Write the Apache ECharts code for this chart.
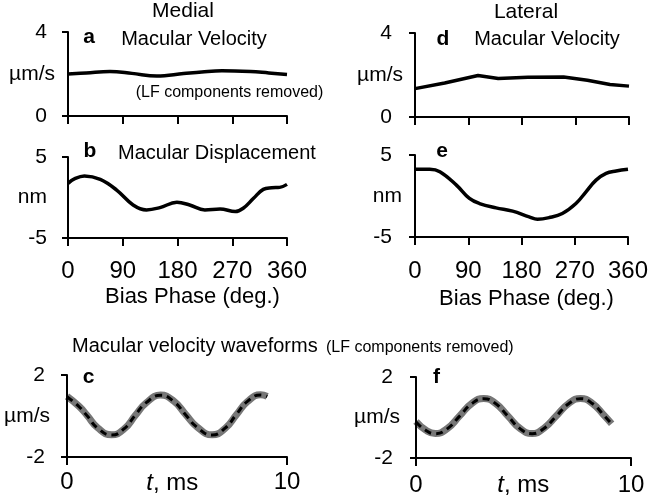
<!DOCTYPE html>
<html><head><meta charset="utf-8">
<script src="https://cdn.jsdelivr.net/npm/echarts@6/dist/echarts.min.js"></script>
<style>html,body{margin:0;padding:0;background:#fff}#c{width:649px;height:499px}</style>
</head><body><div id="c"></div>
<script>
// ---- axis ranges ----
const phaseRange = [0, 360];
const velRange = [0, 4];
const dispRange = [-5, 5];
const timeRange = [0, 10];
const waveRange = [-2, 2];
// ---- data ----
// a: medial macular velocity (µm/s) vs bias phase (deg)
const medVelPhase = [0, 30, 69, 105, 146, 190, 220, 253, 300, 330, 360];
const medVelValue = [2.00, 2.05, 2.12, 2.03, 1.90, 2.02, 2.10, 2.16, 2.12, 2.05, 1.98];
// b: medial macular displacement (nm)
const medDispPhase = [0, 12, 27, 53, 80, 107, 129, 151, 179, 200, 225, 250, 275, 288, 305, 321, 335, 348, 360];
const medDispValue = [1.75, 2.35, 2.65, 2.23, 0.92, -0.92, -1.53, -1.25, -0.59, -0.92, -1.53, -1.41, -1.74, -1.33, -0.10, 1.00, 1.20, 1.25, 1.62];
// d: lateral macular velocity (µm/s)
const latVelPhase = [0, 50, 106, 140, 190, 250, 290, 328, 360];
const latVelValue = [1.35, 1.62, 1.98, 1.83, 1.89, 1.90, 1.75, 1.55, 1.47];
// e: lateral macular displacement (nm)
const latDispPhase = [0, 25, 42, 70, 92, 109, 137, 165, 193, 207, 227, 249, 272, 289, 306, 323, 340, 360];
const latDispValue = [3.25, 3.25, 2.96, 1.33, -0.30, -0.92, -1.45, -1.85, -2.55, -2.83, -2.63, -2.14, -0.92, 0.51, 1.94, 2.76, 3.04, 3.25];
// c: medial velocity waveforms (µm/s) vs time (ms)
const medWaveTime = [0, 0.55, 0.9, 1.4, 2.03, 2.6, 3.1, 3.6, 4.25, 4.85, 5.4, 5.9, 6.6, 7.2, 7.7, 8.2, 8.8, 9.1];
const medWaveGray = [0.96, 0.47, 0.05, -0.58, -0.92, -0.63, 0.02, 0.64, 1.02, 0.73, 0.07, -0.52, -0.92, -0.59, 0.06, 0.70, 1.04, 0.96];
const medWaveDash = [0.94, 0.45, 0.03, -0.60, -0.93, -0.62, 0.04, 0.65, 1.01, 0.71, 0.05, -0.54, -0.93, -0.58, 0.08, 0.71, 1.03, 0.95];
// f: lateral velocity waveforms (µm/s) vs time (ms)
const latWaveTime = [0, 0.45, 0.9, 1.45, 2.03, 2.6, 3.15, 3.7, 4.27, 4.85, 5.4, 5.95, 6.52, 7.1, 7.65, 8.2, 8.77, 9.1];
const latWaveGray = [-0.20, -0.62, -0.79, -0.55, 0.08, 0.70, 0.94, 0.70, 0.08, -0.55, -0.79, -0.53, 0.07, 0.69, 0.94, 0.70, 0.08, -0.31];
const latWaveDash = [-0.22, -0.63, -0.80, -0.56, 0.07, 0.69, 0.93, 0.69, 0.07, -0.56, -0.80, -0.54, 0.06, 0.68, 0.93, 0.69, 0.07, -0.32];

const FF = "'Liberation Sans', Arial, Helvetica, sans-serif";
const pairs = (xs, ys) => xs.map((x, i) => [x, ys[i]]);

function xAx(gi, range, interval, showLabels, margin) {
  return {
    type: 'value', gridIndex: gi, min: range[0], max: range[1], interval,
    axisLine: { show: true, onZero: false, lineStyle: { color: '#000', width: 2 } },
    axisTick: { show: true, length: 8, lineStyle: { color: '#000', width: 2 } },
    axisLabel: { show: showLabels, fontSize: 24, color: '#000', margin, fontFamily: FF, showMinLabel: true, showMaxLabel: true },
    splitLine: { show: false }
  };
}
function yAx(gi, range, name, nameGap, margin) {
  return {
    type: 'value', gridIndex: gi, min: range[0], max: range[1], interval: range[1] - range[0],
    name, nameLocation: 'middle', nameRotate: 0, nameGap, nameMoveOverlap: false,
    nameTextStyle: { fontSize: 21, color: '#000', fontFamily: FF },
    axisLine: { show: true, onZero: false, lineStyle: { color: '#000', width: 2 } },
    axisTick: { show: true, length: 6, lineStyle: { color: '#000', width: 2 } },
    axisLabel: { fontSize: 21, color: '#000', margin, fontFamily: FF, showMinLabel: true, showMaxLabel: true },
    splitLine: { show: false }
  };
}
// axis frame lines (left and bottom edges) drawn at the axis minima
function frame(xr, yr) {
  return { silent: true, symbol: ['none', 'none'], label: { show: false }, animation: false,
    emphasis: { disabled: true },
    lineStyle: { color: '#000', width: 2, type: 'solid' },
    data: [{ xAxis: xr[0] }, { yAxis: yr[0] }] };
}
function curve(i, xs, ys, smooth, xr, yr) {
  return { type: 'line', xAxisIndex: i, yAxisIndex: i, data: pairs(xs, ys), smooth, showSymbol: false,
    lineStyle: { color: '#000', width: 3.5 }, markLine: frame(xr, yr) };
}
function band(i, xs, ys, xr, yr) {
  return { type: 'line', xAxisIndex: i, yAxisIndex: i, data: pairs(xs, ys), smooth: 0.5, showSymbol: false,
    lineStyle: { color: '#777', width: 7 }, markLine: frame(xr, yr) };
}
function dashed(i, xs, ys) {
  return { type: 'line', xAxisIndex: i, yAxisIndex: i, data: pairs(xs, ys), smooth: 0.5, showSymbol: false,
    lineStyle: { color: '#000', width: 3, type: [7, 5] } };
}
function txt(x, y, s, size, opts) {
  return { type: 'text', x, y, z: 100, style: Object.assign({ text: s, fontSize: size, fontFamily: FF, fill: '#000', align: 'center', verticalAlign: 'middle' }, opts || {}) };
}
function gridAt(left, top, width, height) {
  return { left, top, width, height, containLabel: false, outerBoundsMode: 'none' };
}

const chart = echarts.init(document.getElementById('c'));
chart.setOption({
  animation: false,
  grid: [
    gridAt(68, 32, 219, 84),   // a
    gridAt(68, 157, 219, 81),  // b
    gridAt(415, 33, 214, 84),  // d
    gridAt(415, 155, 213, 82), // e
    gridAt(67, 375, 220, 82),  // c
    gridAt(416, 377, 215, 81)  // f
  ],
  xAxis: [
    xAx(0, phaseRange, 90, false, 20),
    xAx(1, phaseRange, 90, true, 21),
    xAx(2, phaseRange, 90, false, 20),
    xAx(3, phaseRange, 90, true, 22),
    xAx(4, timeRange, 10, true, 13),
    xAx(5, timeRange, 10, true, 15)
  ],
  yAxis: [
    yAx(0, velRange, 'µm/s', 13, 21),
    yAx(1, dispRange, 'nm', 21, 21),
    yAx(2, velRange, 'µm/s', 12, 23),
    yAx(3, dispRange, 'nm', 13, 23),
    yAx(4, waveRange, 'µm/s', 17, 22),
    yAx(5, waveRange, 'µm/s', 16, 23)
  ],
  series: [
    curve(0, medVelPhase, medVelValue, 0.4, phaseRange, velRange),
    curve(1, medDispPhase, medDispValue, 0.4, phaseRange, dispRange),
    curve(2, latVelPhase, latVelValue, false, phaseRange, velRange),
    curve(3, latDispPhase, latDispValue, 0.4, phaseRange, dispRange),
    band(4, medWaveTime, medWaveGray, timeRange, waveRange),
    dashed(4, medWaveTime, medWaveDash),
    band(5, latWaveTime, latWaveGray, timeRange, waveRange),
    dashed(5, latWaveTime, latWaveDash)
  ],
  graphic: [
    txt(183, 11, 'Medial', 21),
    txt(526, 12, 'Lateral', 21),
    txt(89, 37.5, 'a', 21, { fontWeight: 'bold' }),
    txt(194, 39.5, 'Macular Velocity', 20),
    txt(229.5, 93, '(LF components removed)', 16),
    txt(443, 39, 'd', 21, { fontWeight: 'bold' }),
    txt(547, 39.5, 'Macular Velocity', 20),
    txt(90, 151.5, 'b', 21, { fontWeight: 'bold' }),
    txt(217, 153, 'Macular Displacement', 20),
    txt(442, 151.5, 'e', 21, { fontWeight: 'bold' }),
    txt(192.5, 297, 'Bias Phase (deg.)', 22),
    txt(526.5, 299, 'Bias Phase (deg.)', 22),
    txt(72, 346, 'Macular velocity waveforms', 20, { align: 'left' }),
    txt(326, 347.5, '(LF components removed)', 16, { align: 'left' }),
    txt(88.5, 377, 'c', 21, { fontWeight: 'bold' }),
    txt(436.5, 377.5, 'f', 21, { fontWeight: 'bold' }),
    txt(153, 483, 't', 24, { align: 'right', fontStyle: 'italic' }),
    txt(153, 483, ', ms', 24, { align: 'left' }),
    txt(504, 485, 't', 24, { align: 'right', fontStyle: 'italic' }),
    txt(504, 485, ', ms', 24, { align: 'left' })
  ]
});
</script></body></html>
